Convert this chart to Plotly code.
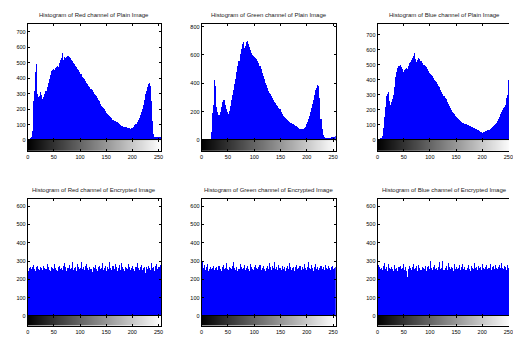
import plotly.graph_objects as go

# ---------------- data (counts per 2-level bin, gray 0..255) ----------------
bin_starts = list(range(0, 256, 2))

red_plain = [
    2, 3, 10, 20, 60, 250, 320, 440, 490, 300, 280, 285, 310, 290, 265, 280,
    300, 320, 345, 370, 395, 420, 445, 455, 460, 450, 465, 470, 482, 475, 500, 515,
    530, 560, 520, 540, 530, 535, 545, 538, 530, 520, 510, 500, 490, 480, 470, 460,
    450, 440, 430, 425, 410, 400, 392, 380, 370, 362, 350, 340, 332, 322, 312, 300,
    292, 282, 270, 262, 250, 235, 222, 215, 205, 200, 190, 178, 170, 160, 155, 148,
    140, 132, 126, 122, 118, 115, 108, 102, 96, 92, 88, 85, 83, 82, 84, 80,
    78, 75, 72, 76, 80, 86, 95, 105, 115, 128, 145, 160, 180, 200, 225, 260,
    300, 320, 340, 365, 370, 350, 250, 120, 40, 22, 20, 18, 20, 18, 22, 25,
]
green_plain = [
    0, 0, 0, 0, 0, 0, 0, 1, 5, 60, 190, 250, 420, 380, 230, 195,
    175, 200, 230, 265, 280, 285, 250, 220, 195, 185, 205, 240, 280, 320, 355, 395,
    430, 480, 520, 560, 610, 640, 680, 695, 650, 665, 690, 700, 680, 655, 635, 615,
    600, 590, 585, 580, 575, 560, 540, 520, 500, 475, 455, 430, 405, 385, 365, 345,
    335, 325, 310, 295, 285, 270, 258, 250, 238, 228, 218, 200, 185, 172, 165, 155,
    148, 140, 132, 126, 122, 118, 113, 110, 105, 102, 98, 92, 85, 80, 78, 76,
    78, 82, 92, 110, 125, 145, 170, 195, 225, 255, 285, 320, 355, 370, 390, 380,
    300, 150, 80, 35, 20, 15, 15, 14, 15, 16, 15, 18, 20, 22, 24, 25,
]
blue_plain = [
    5, 10, 12, 15, 30, 80, 150, 220, 290, 305, 320, 260, 230, 250, 275, 300,
    350, 420, 450, 480, 490, 495, 485, 470, 455, 465, 470, 478, 475, 490, 510, 520,
    530, 545, 560, 575, 540, 520, 530, 545, 540, 525, 510, 500, 495, 490, 488, 475,
    460, 448, 440, 430, 422, 410, 400, 392, 385, 372, 360, 350, 335, 318, 303, 290,
    280, 270, 255, 240, 228, 212, 200, 188, 178, 170, 162, 155, 148, 142, 136, 128,
    120, 116, 112, 108, 105, 100, 97, 95, 90, 87, 85, 80, 77, 74, 70, 67,
    64, 60, 56, 53, 50, 52, 55, 58, 62, 65, 68, 72, 78, 85, 92, 100,
    107, 115, 125, 138, 155, 170, 185, 200, 212, 222, 232, 280, 300, 400, 350, 300,
]
red_enc = [
    248, 262, 270, 255, 268, 276, 259, 244, 265, 272, 258, 251, 270, 263, 249, 274,
    260, 255, 281, 266, 252, 247, 270, 261, 258, 286, 264, 250, 243, 268, 275, 259,
    262, 253, 271, 289, 266, 248, 260, 277, 257, 264, 296, 251, 262, 270, 245, 283,
    268, 256, 261, 292, 254, 265, 249, 273, 281, 260, 252, 267, 258, 238, 270, 262,
    279, 255, 248, 266, 271, 259, 263, 288, 252, 260, 274, 245, 268, 257, 296, 263,
    250, 271, 259, 284, 265, 248, 262, 276, 253, 290, 266, 259, 244, 270, 261, 255,
    281, 268, 250, 264, 272, 257, 246, 269, 287, 260, 253, 265, 278, 249, 262, 270,
    232, 266, 258, 275, 263, 251, 289, 260, 268, 247, 272, 282, 258, 266, 277, 285,
]
green_enc = [
    300, 262, 278, 251, 266, 283, 247, 259, 270, 256, 264, 275, 249, 261, 268, 253,
    272, 258, 245, 266, 279, 254, 262, 287, 258, 249, 270, 263, 255, 274, 292, 260,
    251, 266, 247, 259, 281, 268, 254, 263, 276, 250, 261, 272, 257, 248, 284, 266,
    259, 253, 270, 277, 262, 256, 268, 280, 251, 264, 273, 258, 246, 262, 271, 255,
    288, 265, 250, 274, 261, 296, 257, 268, 252, 280, 263, 249, 271, 258, 266, 244,
    262, 275, 258, 290, 267, 253, 261, 270, 248, 265, 279, 256, 262, 273, 250, 267,
    257, 282, 264, 251, 269, 293, 260, 254, 276, 262, 248, 270, 283, 259, 266, 252,
    263, 271, 255, 268, 249, 277, 261, 258, 272, 264, 250, 267, 274, 256, 262, 269,
]
blue_enc = [
    276, 268, 255, 263, 250, 272, 291, 259, 266, 248, 281, 262, 254, 270, 258, 245,
    279, 255, 262, 243, 268, 275, 256, 261, 284, 252, 266, 247, 210, 259, 273, 262,
    250, 266, 281, 258, 264, 271, 245, 278, 260, 253, 269, 262, 257, 274, 248, 265,
    271, 258, 300, 263, 252, 266, 279, 255, 261, 249, 270, 295, 258, 264, 300, 253,
    262, 275, 249, 288, 266, 257, 270, 263, 246, 281, 259, 268, 254, 262, 277, 250,
    265, 282, 258, 270, 251, 263, 276, 259, 248, 272, 264, 255, 287, 261, 268, 253,
    274, 260, 267, 252, 283, 264, 256, 270, 279, 258, 262, 281, 250, 267, 273, 259,
    280, 262, 255, 268, 276, 260, 290, 264, 258, 271, 266, 253, 278, 262, 305, 260,
]

titles = [
    "Histogram of Red channel of Plain Image",
    "Histogram of Green channel of Plain Image",
    "Histogram of Blue channel of Plain Image",
    "Histogram of Red channel of Encrypted Image",
    "Histogram of Green channel of Encrypted Image",
    "Histogram of Blue channel of Encrypted Image",
]
series = [red_plain, green_plain, blue_plain, red_enc, green_enc, blue_enc]
y_max = [752, 820, 772, 642, 642, 642]
y_step = [100, 200, 100, 100, 100, 100]
x_ticks = [0, 50, 100, 150, 200, 250]
gray_levels = list(range(256))

# ---------------- layout geometry (pixels) ----------------
W, H = 513, 337
cols_px = [(26, 161), (202, 337.7), (380, 515)]
rows_px = [((24, 141.3), (141.3, 152), 15, 1), ((200.3, 318.7), (318.7, 328.5), 192, 1)]
FONT = "Liberation Sans, Arial, sans-serif"

fig = go.Figure()
layout = dict(
    width=W, height=H, margin=dict(l=0, r=0, t=0, b=0),
    paper_bgcolor="white", plot_bgcolor="white", showlegend=False,
    bargap=0, font=dict(family=FONT, size=6, color="black"),
    annotations=[],
)

for i in range(6):
    r, c = divmod(i, 3)
    (hx0, hx1) = cols_px[c]
    x_end_px = min(hx1, W)
    xr_end = 255 * (x_end_px - hx0) / (hx1 - hx0)
    xdom = [hx0 / W, x_end_px / W]
    (hy, cy, ty, standoff) = rows_px[r]
    hdom = [1 - hy[1] / H, 1 - hy[0] / H]
    cdom = [1 - cy[1] / H, 1 - cy[0] / H]
    ha, ca = 2 * i + 1, 2 * i + 2
    hx = "x" if ha == 1 else f"x{ha}"
    hyk = "y" if ha == 1 else f"y{ha}"
    cx, cyk = f"x{ca}", f"y{ca}"
    full = c < 2

    fig.add_trace(go.Bar(
        x=bin_starts, y=series[i], width=2, offset=0,
        marker=dict(color="#0000ff", line=dict(width=0)),
        xaxis=hx, yaxis=hyk, hoverinfo="skip",
    ))
    fig.add_trace(go.Heatmap(
        x=gray_levels, y=[0], z=[gray_levels],
        colorscale=[[0, "black"], [1, "white"]], showscale=False,
        xaxis=cx, yaxis=cyk, hoverinfo="skip",
    ))

    layout["xaxis" if ha == 1 else f"xaxis{ha}"] = dict(
        domain=xdom, range=[0, xr_end], anchor=hyk,
        showline=True, mirror="allticks", linecolor="black", linewidth=1,
        ticks="inside", ticklen=2, tickcolor="black", tickvals=x_ticks,
        showticklabels=False, showgrid=False, zeroline=False, fixedrange=True,
    )
    layout["yaxis" if ha == 1 else f"yaxis{ha}"] = dict(
        domain=hdom, range=[0, y_max[i]], anchor=hx,
        showline=True, mirror="allticks" if full else False,
        linecolor="black", linewidth=1,
        ticks="inside", ticklen=2, tickcolor="black",
        tickmode="linear", tick0=0, dtick=y_step[i],
        tickfont=dict(size=5.5, family=FONT), showgrid=False, zeroline=False,
        fixedrange=True,
    )
    layout[f"xaxis{ca}"] = dict(
        domain=xdom, range=[0, xr_end], anchor=cyk,
        showline=True, mirror="allticks", linecolor="black", linewidth=1,
        ticks="inside", ticklen=2, tickcolor="black", tickvals=x_ticks,
        tickfont=dict(size=5.5, family=FONT), ticklabelstandoff=standoff,
        ticklabeloverflow="allow",
        showgrid=False, zeroline=False, fixedrange=True,
    )
    layout[f"yaxis{ca}"] = dict(
        domain=cdom, range=[-0.5, 0.5], anchor=cx,
        showline=True, mirror=True if full else False,
        linecolor="black", linewidth=1,
        showticklabels=False, ticks="", showgrid=False, zeroline=False,
        fixedrange=True,
    )
    layout["annotations"].append(dict(
        text=titles[i], xref="paper", yref="paper",
        x=(hx0 + hx1) / 2 / W, y=1 - ty / H, xanchor="center", yanchor="middle",
        showarrow=False, font=dict(size=6, family=FONT, color="#222222"),
    ))

fig.update_layout(**layout)
fig.write_html(
    "out.html",
    config={"displayModeBar": False, "staticPlot": True},
    post_script="document.body.style.margin='0';document.body.style.overflow='hidden';",
)
